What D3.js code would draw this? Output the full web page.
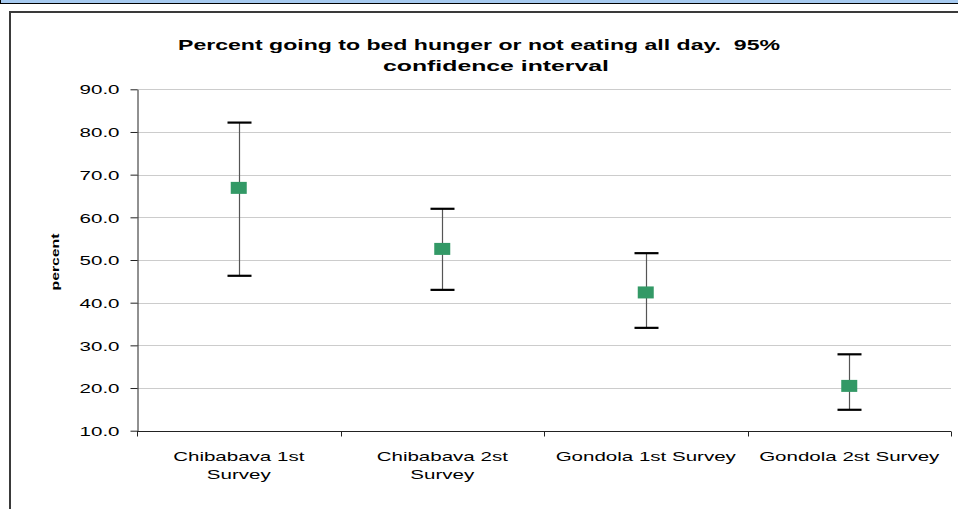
<!DOCTYPE html>
<html>
<head>
<meta charset="utf-8">
<script src="https://cdn.jsdelivr.net/npm/d3@7/dist/d3.min.js"></script>
<style>
  html, body { margin: 0; padding: 0; background: #fff; overflow: hidden; }
  svg { display: block; }
  text { font-family: "Liberation Sans", Arial, sans-serif; fill: #000; }
</style>
</head>
<body>
<svg id="chart" width="958" height="509"></svg>
<script>
// Survey estimates with 95% confidence limits
const categories = ["Chibabava 1st Survey", "Chibabava 2st Survey", "Gondola 1st Survey", "Gondola 2st Survey"];
const estimates  = [66.9, 52.6, 42.4, 20.5];
const lowerCI    = [46.3, 43.0, 34.1, 14.9];
const upperCI    = [82.2, 62.0, 51.6, 27.9];
const yTicks     = [10, 20, 30, 40, 50, 60, 70, 80, 90];
const titleLines = ["Percent going to bed hunger or not eating all day.  95%", "confidence interval"];
const yTitle     = "percent";

const SX = 1.58;          // horizontal text stretch
const FONT = 13;

const svg = d3.select("#chart");

// window header strip and chart frame
svg.append("rect").attr("x", 0).attr("y", 0).attr("width", 958).attr("height", 3)
  .attr("fill", "#a6caf0");
svg.append("line").attr("x1", 0).attr("x2", 958).attr("y1", 3.5).attr("y2", 3.5)
  .attr("stroke", "#000").attr("stroke-width", 1.2);
svg.append("line").attr("x1", 0.5).attr("x2", 0.5).attr("y1", 0).attr("y2", 4)
  .attr("stroke", "#000");
svg.append("path").attr("d", "M10,509 V12 H958")
  .attr("fill", "none").attr("stroke", "#3a3a3a").attr("stroke-width", 2);

const plot = { left: 137, right: 951, top: 89.3, bottom: 430.7 };

const y = d3.scaleLinear().domain([10, 90]).range([plot.bottom, plot.top]);
const x = d3.scaleBand().domain(categories).range([plot.left, plot.right]).padding(0);

// gridlines
svg.append("g").selectAll("line").data(yTicks.filter(d => d > 10)).join("line")
  .attr("x1", plot.left).attr("x2", plot.right)
  .attr("y1", d => Math.round(y(d)) + 0.5).attr("y2", d => Math.round(y(d)) + 0.5)
  .attr("stroke", "#cccccc").attr("stroke-width", 1);

// y axis
const yAxis = svg.append("g").attr("transform", `translate(${plot.left + 0.5},0)`)
  .call(d3.axisLeft(y).tickValues(yTicks).tickSize(7).tickSizeOuter(0).tickFormat(d3.format(".1f")));
yAxis.select(".domain").attr("stroke", "#222");
yAxis.selectAll(".tick line").attr("stroke", "#222");
yAxis.selectAll(".tick text")
  .attr("x", -18 / SX).attr("dy", "0.36em")
  .attr("transform", `scale(${SX},1)`)
  .style("font-size", FONT + "px").style("font-family", '"Liberation Sans", Arial, sans-serif')
  .attr("fill", "#000");

// x axis line and boundary ticks
const xAxisY = Math.round(plot.bottom) + 0.5;
svg.append("line").attr("x1", plot.left).attr("x2", plot.right)
  .attr("y1", xAxisY).attr("y2", xAxisY).attr("stroke", "#222");
const bounds = categories.map(c => x(c)).concat([x.range()[1]]);
svg.append("g").selectAll("line").data(bounds).join("line")
  .attr("x1", d => Math.round(d) + 0.5).attr("x2", d => Math.round(d) + 0.5)
  .attr("y1", xAxisY).attr("y2", xAxisY + 5).attr("stroke", "#222");

// category labels, wrapped to the band width
const labelG = svg.append("g");
categories.forEach(c => {
  const cx = x(c) + x.bandwidth() / 2;
  const g = labelG.append("g").attr("transform", `translate(${cx},${xAxisY + 29}) scale(${SX},1)`);
  const maxW = 190 / SX;
  const words = c.split(" ");
  const lines = [];
  let cur = [];
  const probe = g.append("text").style("font-size", FONT + "px");
  words.forEach(w => {
    const trial = cur.concat([w]).join(" ");
    probe.text(trial);
    if (probe.node().getComputedTextLength() > maxW && cur.length) {
      lines.push(cur.join(" "));
      cur = [w];
    } else {
      cur.push(w);
    }
  });
  lines.push(cur.join(" "));
  probe.remove();
  lines.forEach((ln, i) => {
    g.append("text").attr("x", 0).attr("y", i * 19)
      .attr("text-anchor", "middle").style("font-size", FONT + "px").text(ln);
  });
});

// error bars
const bars = svg.append("g");
categories.forEach((c, i) => {
  const cx = Math.round(x(c) + x.bandwidth() / 2) + 0.5;
  bars.append("line").attr("x1", cx).attr("x2", cx)
    .attr("y1", y(upperCI[i])).attr("y2", y(lowerCI[i]))
    .attr("stroke", "#555").attr("stroke-width", 1.2);
  [upperCI[i], lowerCI[i]].forEach(v => {
    bars.append("line").attr("x1", cx - 12).attr("x2", cx + 12)
      .attr("y1", y(v)).attr("y2", y(v))
      .attr("stroke", "#000").attr("stroke-width", 2.2);
  });
});

// point estimates
svg.append("g").selectAll("rect").data(categories).join("rect")
  .attr("x", c => x(c) + x.bandwidth() / 2 - 8)
  .attr("y", (c, i) => y(estimates[i]) - 6)
  .attr("width", 16).attr("height", 12)
  .attr("fill", "#339966");

// title
const titleSpan = [[178, 780], [383, 609]];
titleLines.forEach((t, i) => {
  const [a, b] = titleSpan[i];
  svg.append("text")
    .attr("x", a).attr("y", 50 + i * 21)
    .attr("textLength", b - a).attr("lengthAdjust", "spacingAndGlyphs")
    .style("white-space", "pre")
    .style("font-size", "14.5px").style("font-weight", "bold")
    .text(t);
});

// y-axis title
svg.append("text")
  .attr("transform", `translate(59,262) rotate(-90)`)
  .attr("text-anchor", "middle")
  .style("font-size", "11px").style("font-weight", "bold")
  .attr("textLength", 57).attr("lengthAdjust", "spacingAndGlyphs")
  .text(yTitle);
</script>
</body>
</html>
